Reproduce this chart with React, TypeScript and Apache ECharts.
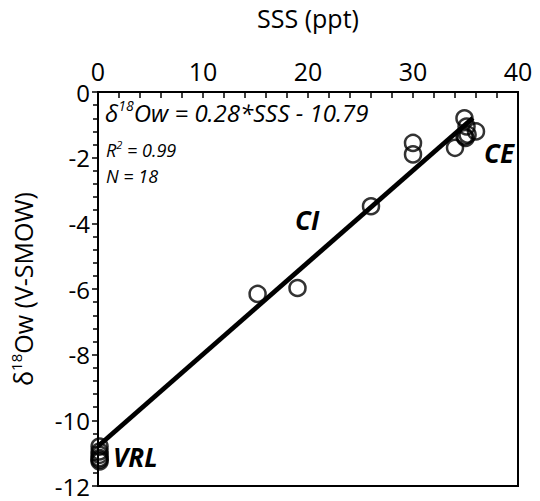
import React, { useEffect, useRef } from "react";
import * as echarts from "echarts";

// Data (SSS in ppt, δ18Ow in ‰ V-SMOW)
const ceSSS = [30.0, 30.0, 34.0, 34.9, 35.1, 36.0, 34.9, 35.0, 35.2];
const ceD18O = [-1.55, -1.9, -1.7, -0.8, -1.05, -1.2, -1.35, -1.4, -1.3];
const ciSSS = [15.2, 19.0, 26.0];
const ciD18O = [-6.15, -5.97, -3.48];
const vrlSSS = [0.15, 0.15, 0.15, 0.15, 0.15, 0.15];
const vrlD18O = [-10.8, -10.95, -11.05, -11.15, -11.2, -11.25];
const fitSSS = [0, 35.7];
const fitD18O = [-10.79, -0.79];

const xMin = 0, xMax = 40, xStep = 10;
const yMin = -12, yMax = 0, yStep = 2;

const FONT = "'Open Sans', 'Noto Sans', sans-serif";

export default function App() {
  const ref = useRef<HTMLDivElement>(null);
  useEffect(() => {
    if (!ref.current) return;
    const chart = echarts.init(ref.current, undefined, { renderer: "svg" });
    const pts = (xs: number[], ys: number[]) => xs.map((x, i) => [x, ys[i]]);
    const allPts = [
      ...pts(vrlSSS, vrlD18O),
      ...pts(ciSSS, ciD18O),
      ...pts(ceSSS, ceD18O),
    ];
    chart.setOption({
      animation: false,
      backgroundColor: "#fff",
      grid: {
        left: 93, right: 22, top: 86, bottom: 15,
        show: true, borderColor: "#000", borderWidth: 2,
      },
      xAxis: {
        type: "value", position: "top", min: xMin, max: xMax, interval: xStep,
        name: "SSS (ppt)", nameLocation: "middle", nameGap: 62,
        nameTextStyle: { fontSize: 25, fontFamily: FONT, color: "#000" },
        axisLine: { show: true, lineStyle: { color: "#000", width: 2 } },
        axisTick: { show: true, inside: true, length: 6, lineStyle: { color: "#000", width: 1.5 } },
        minorTick: { show: true, splitNumber: 5, length: 6, lineStyle: { color: "#000", width: 1.5 } },
        axisLabel: { fontSize: 25, fontFamily: FONT, color: "#000", margin: 9 },
        splitLine: { show: false },
      },
      yAxis: {
        type: "value", min: yMin, max: yMax, interval: yStep,
        name: "{a|δ}{b|18}{a|Ow (V-SMOW)}", nameLocation: "middle", nameGap: 60, nameRotate: 90,
        nameTextStyle: {
          color: "#000",
          rich: {
            a: { fontSize: 25, fontFamily: FONT, color: "#000", lineHeight: 30 },
            b: { fontSize: 15, fontFamily: FONT, color: "#000", verticalAlign: "top", lineHeight: 18 },
          },
        },
        axisLine: { show: true, lineStyle: { color: "#000", width: 2 } },
        axisTick: { show: true, inside: false, length: 6, lineStyle: { color: "#000", width: 1.5 } },
        minorTick: { show: true, splitNumber: 5, length: 5, lineStyle: { color: "#000", width: 1.5 } },
        axisLabel: { fontSize: 24, lineHeight: 20, fontFamily: FONT, color: "#000", margin: 8 },
        splitLine: { show: false },
      },
      series: [
        {
          type: "scatter", data: allPts, symbol: "circle", symbolSize: 16,
          itemStyle: { color: "rgba(255,255,255,0)", borderColor: "#000", borderWidth: 2.5 },
          z: 2,
        },
        {
          type: "line", data: pts(fitSSS, fitD18O), symbol: "none",
          lineStyle: { color: "#000", width: 4.8 }, z: 3,
        },
      ],
      graphic: [
        {
          type: "text", left: 105, top: 98,
          style: {
            text: "{i|δ}{s|18}{i|Ow = 0.28*SSS - 10.79}",
            rich: {
              i: { fontSize: 24, fontStyle: "italic", fontFamily: FONT, fill: "#000", lineHeight: 29 },
              s: { fontSize: 14, fontStyle: "italic", fontFamily: FONT, fill: "#000", verticalAlign: "top", lineHeight: 18 },
            },
          },
        },
        {
          type: "text", left: 106, top: 139,
          style: {
            text: "{i|R}{s|2}{i| = 0.99}",
            rich: {
              i: { fontSize: 18, fontStyle: "italic", fontFamily: FONT, fill: "#000", lineHeight: 22 },
              s: { fontSize: 11, fontStyle: "italic", fontFamily: FONT, fill: "#000", verticalAlign: "top", lineHeight: 14 },
            },
          },
        },
        {
          type: "text", left: 106, top: 167,
          style: { text: "N = 18", font: `italic 18px ${FONT}`, fill: "#000" },
        },
        {
          type: "text", left: 295, top: 207,
          style: { text: "CI", font: `italic bold 26px ${FONT}`, fill: "#000" },
        },
        {
          type: "text", left: 484, top: 140,
          style: { text: "CE", font: `italic bold 26px ${FONT}`, fill: "#000" },
        },
        {
          type: "text", left: 113, top: 444,
          style: { text: "VRL", font: `italic bold 26px ${FONT}`, fill: "#000" },
        },
      ],
    });
    return () => chart.dispose();
  }, []);
  return (
    <div
      ref={ref}
      style={{ position: "fixed", left: 0, top: 0, width: 540, height: 501 }}
    />
  );
}
